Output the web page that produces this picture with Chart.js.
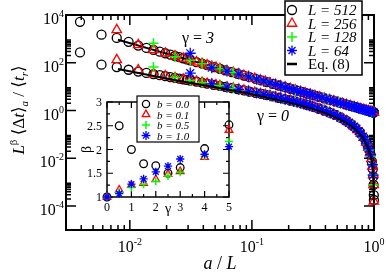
<!DOCTYPE html>
<html>
<head>
<meta charset="utf-8">
<script src="https://cdn.jsdelivr.net/npm/chart.js"></script>
<style>
    html, body { margin: 0; padding: 0; background: #fff; }
    #wrap { position: relative; width: 386px; height: 272px; overflow: hidden; }
    #main-chart { position: absolute; left: 0; top: 0; }
    #inset-chart { position: absolute; left: 80px; top: 92px; }
</style>
</head>
<body>
<div id="wrap">
    <canvas id="main-chart" width="386" height="272"></canvas>
    <canvas id="inset-chart" width="160" height="130"></canvas>
</div>
<script>
// --- Main plot data: a values per system size L, and scaled times for gamma = 3 (upper) and gamma = 0 (lower) ---
const a512 = [2, 3, 4, 5, 6, 7, 8, 9, 10, 11, 12, 13, 14, 15, 16, 18, 20, 22, 25, 28, 31, 35, 39, 44, 49, 55, 61, 68, 76, 85, 95, 106, 118, 131, 146, 162, 180, 200, 222, 246, 272, 300, 330, 360, 390, 420, 445, 465, 480, 492, 500, 505, 508, 510, 511];
const up512 = [5200, 1500, 1100, 750, 525, 420, 346, 292, 250, 218, 192, 171, 154, 139, 127, 107, 91.6, 79.8, 66.3, 56.2, 48.5, 40.7, 34.8, 29.2, 25.0, 21.1, 18.2, 15.5, 13.2, 11.2, 9.57, 8.16, 6.99, 6.00, 5.13, 4.41, 3.79, 3.25, 2.79, 2.41, 2.08, 1.81, 1.57, 1.39, 1.23, 1.11, 1.02, 0.956, 0.913, 0.881, 0.861, 0.849, 0.841, 0.836, 0.834];
const low512 = [270, 83, 66, 51, 43.0, 37.6, 33.4, 30.2, 27.5, 25.3, 23.4, 21.8, 20.4, 19.2, 18.1, 16.3, 14.8, 13.5, 12.0, 10.8, 9.81, 8.73, 7.86, 6.98, 6.26, 5.55, 4.98, 4.43, 3.91, 3.44, 3.01, 2.63, 2.29, 1.99, 1.70, 1.45, 1.22, 1.006, 0.820, 0.654, 0.509, 0.384, 0.278, 0.193, 0.127, 0.0759, 0.0435, 0.0244, 0.0143, 7.4e-3, 3.6e-3, 1.7e-3, 7.8e-4, 2.9e-4, 1.8e-4];

const a256 = [2, 3, 4, 5, 6, 7, 8, 9, 10, 11, 12, 13, 14, 16, 18, 20, 22, 24, 27, 30, 33, 36, 40, 44, 48, 53, 58, 64, 70, 77, 84, 92, 100, 110, 120, 130, 141, 152, 164, 176, 188, 200, 211, 221, 230, 238, 244, 249, 252, 254, 255];
const up256 = [2400, 560, 346, 250, 192, 154, 127, 107, 91.6, 79.8, 70.3, 62.6, 56.2, 46.3, 39.1, 33.5, 29.2, 25.7, 21.7, 18.6, 16.2, 14.3, 12.3, 10.7, 9.42, 8.16, 7.16, 6.21, 5.45, 4.75, 4.18, 3.67, 3.25, 2.83, 2.50, 2.22, 1.98, 1.77, 1.59, 1.43, 1.30, 1.19, 1.10, 1.03, 0.97, 0.925, 0.89, 0.866, 0.85, 0.84, 0.84];
const low256 = [133, 50, 33.4, 27.5, 23.4, 20.4, 18.1, 16.3, 14.8, 13.5, 12.5, 11.6, 10.8, 9.52, 8.50, 7.67, 6.98, 6.39, 5.66, 5.07, 4.58, 4.16, 3.69, 3.30, 2.98, 2.63, 2.34, 2.05, 1.81, 1.57, 1.36, 1.17, 1.006, 0.835, 0.692, 0.572, 0.461, 0.368, 0.284, 0.214, 0.156, 0.108, 0.073, 0.0469, 0.0282, 0.0168, 9.5e-3, 4.5e-3, 2.05e-3, 7.8e-4, 1.6e-4];

const a128 = [2, 3, 4, 5, 6, 7, 8, 9, 10, 12, 14, 16, 18, 20, 23, 26, 29, 32, 36, 40, 44, 49, 54, 60, 66, 72, 79, 86, 93, 100, 106, 112, 117, 121, 124, 126, 127];
const up128 = [660, 180, 127, 91.6, 70.3, 56.2, 46.3, 39.1, 33.5, 25.7, 20.6, 17.0, 14.3, 12.3, 10.0, 8.39, 7.16, 6.21, 5.23, 4.49, 3.91, 3.35, 2.91, 2.50, 2.17, 1.92, 1.67, 1.48, 1.32, 1.19, 1.09, 1.01, 0.95, 0.90, 0.87, 0.85, 0.84];
const low128 = [66, 24, 18.1, 14.8, 12.5, 10.8, 9.52, 8.50, 7.67, 6.39, 5.45, 4.73, 4.16, 3.69, 3.13, 2.70, 2.34, 2.05, 1.73, 1.48, 1.26, 1.045, 0.867, 0.692, 0.551, 0.435, 0.324, 0.236, 0.165, 0.108, 0.0702, 0.0402, 0.0223, 0.0118, 5.4e-3, 2.05e-3, 7.8e-4];

const a64 = [2, 3, 4, 5, 6, 7, 8, 9, 10, 11, 12, 13, 14, 15, 16, 17, 18, 19, 20, 22, 24, 26, 28, 30, 32, 34, 36, 38, 40, 42, 44, 46, 48, 50, 52, 54, 56, 58, 60, 62, 63];
const up64 = [250, 62, 45, 33.5, 25.7, 20.6, 17.0, 14.3, 12.3, 10.7, 9.4, 8.4, 7.5, 6.8, 6.2, 5.7, 5.2, 4.84, 4.49, 3.91, 3.45, 3.07, 2.76, 2.50, 2.27, 2.08, 1.92, 1.77, 1.64, 1.53, 1.43, 1.34, 1.26, 1.19, 1.12, 1.06, 1.01, 0.96, 0.91, 0.87, 0.85];
const low64 = [37, 13, 9.5, 7.67, 6.39, 5.45, 4.73, 4.16, 3.69, 3.30, 2.98, 2.70, 2.45, 2.24, 2.05, 1.88, 1.73, 1.60, 1.48, 1.26, 1.085, 0.934, 0.804, 0.692, 0.595, 0.509, 0.435, 0.369, 0.310, 0.259, 0.214, 0.174, 0.139, 0.108, 0.082, 0.0593, 0.0402, 0.0252, 0.0143, 5.4e-3, 2.0e-3];

// Eq. (8) curves
const eqX = [0.008, 0.02, 0.05, 0.1, 0.2, 0.3, 0.4, 0.5, 0.6, 0.7, 0.8, 0.9, 0.95, 0.98, 0.99, 0.995, 0.998];
const eqUpper = [914, 242, 64, 23.4, 8.6, 4.76, 3.14, 2.27, 1.75, 1.40, 1.15, 0.97, 0.90, 0.86, 0.84, 0.835, 0.83];
const eqLower = [55, 22, 9.4, 4.8, 2.2, 1.26, 0.78, 0.48, 0.30, 0.17, 0.082, 0.026, 0.0102, 2.9e-3, 1.1e-3, 4.2e-4, 1.6e-4];

// --- Inset data: beta vs gamma for several b ---
const gammas = [0, 0.5, 1, 1.5, 2, 2.5, 3, 4, 5];
const beta00 = [1.0, 2.5, 2.0, 1.7, 1.66, 1.5, 1.62, 2.02, 2.52];
const beta01 = [1.0, 1.15, 1.25, 1.29, 1.37, 1.48, 1.54, 1.84, 2.41];
const beta05 = [1.0, 1.1, 1.2, 1.27, 1.33, 1.44, 1.52, 1.86, 2.17];
const beta10 = [1.0, 1.07, 1.27, 1.38, 1.53, 1.65, 1.8, 1.9, 2.06];

// --- Tick labels ---
const xTickExps = [-2, -1, 0];
const yTickExps = [4, 2, 0, -2, -4];
const insetXTicks = [0, 1, 2, 3, 4, 5];
const insetYTicks = [1, 1.5, 2, 2.5, 3];

const legendMain = ['L = 512', 'L = 256', 'L = 128', 'L = 64'];
const legendInset = ['b = 0.0', 'b = 0.1', 'b = 0.5', 'b = 1.0'];

// --- Styles ---
const SERIF = '"Liberation Serif", "DejaVu Serif", serif';
const STYLE_CIRCLE = { shape: 'circle', r: 4.5, color: '#000000', w: 1.3 };
const STYLE_TRI = { shape: 'triangle', r: 5.5, color: '#ff0000', w: 1.3 };
const STYLE_PLUS = { shape: 'cross', r: 5, color: '#00ff00', w: 1.5 };
const STYLE_STAR = { shape: 'star', r: 5.5, color: '#0000ff', w: 1.3 };
const mainStyles = [STYLE_CIRCLE, STYLE_TRI, STYLE_PLUS, STYLE_STAR];

// --- Helpers ---
function fontStr(p) {
    return (p.italic ? 'italic ' : '') + p.size + 'px ' + SERIF;
}

function drawRich(ctx, x, y, parts, align) {
    let total = 0;
    parts.forEach(p => {
        ctx.font = fontStr(p);
        p.w = ctx.measureText(p.t).width;
        total += p.w;
    });
    let cx = align === 'center' ? x - total / 2 : (align === 'right' ? x - total : x);
    ctx.textAlign = 'left';
    ctx.textBaseline = 'alphabetic';
    ctx.fillStyle = '#000';
    parts.forEach(p => {
        ctx.font = fontStr(p);
        ctx.fillText(p.t, cx, y + (p.dy || 0));
        cx += p.w;
    });
}

function drawMarker(ctx, style, x, y, scale) {
    const r = style.r * (scale || 1);
    ctx.save();
    ctx.strokeStyle = style.color;
    ctx.lineWidth = style.w;
    ctx.beginPath();
    if (style.shape === 'circle') {
        ctx.arc(x, y, r, 0, Math.PI * 2);
    } else if (style.shape === 'triangle') {
        for (let i = 0; i < 3; i++) {
            const ang = i * 2 * Math.PI / 3;
            const px = x + Math.sin(ang) * r, py = y - Math.cos(ang) * r;
            if (i === 0) ctx.moveTo(px, py); else ctx.lineTo(px, py);
        }
        ctx.closePath();
    } else {
        ctx.moveTo(x - r, y); ctx.lineTo(x + r, y);
        ctx.moveTo(x, y - r); ctx.lineTo(x, y + r);
        if (style.shape === 'star') {
            const d = r * Math.SQRT1_2;
            ctx.moveTo(x - d, y - d); ctx.lineTo(x + d, y + d);
            ctx.moveTo(x - d, y + d); ctx.lineTo(x + d, y - d);
        }
    }
    ctx.stroke();
    ctx.restore();
}

function markerSet(xs, ys, style, scale) {
    return {
        data: xs.map((x, i) => ({ x: x, y: ys[i] })),
        showLine: false,
        pointStyle: style.shape,
        pointRadius: style.r * (scale || 1),
        pointBorderColor: style.color,
        pointBackgroundColor: 'rgba(0,0,0,0)',
        pointBorderWidth: style.w,
        clip: false,
    };
}

function lineSet(xs, ys) {
    return {
        data: xs.map((x, i) => ({ x: x, y: ys[i] })),
        showLine: true,
        borderColor: '#000',
        borderWidth: 2,
        pointRadius: 0,
        tension: 0,
        clip: false,
    };
}

function drawTicks(ctx, area, scaleObj, values, len, horizontal) {
    values.forEach(v => {
        const p = scaleObj.getPixelForValue(v);
        ctx.beginPath();
        if (horizontal) {
            ctx.moveTo(p, area.bottom); ctx.lineTo(p, area.bottom - len);
            ctx.moveTo(p, area.top); ctx.lineTo(p, area.top + len);
        } else {
            ctx.moveTo(area.left, p); ctx.lineTo(area.left + len, p);
            ctx.moveTo(area.right, p); ctx.lineTo(area.right - len, p);
        }
        ctx.stroke();
    });
}

// --- Main chart decorations ---
const mainDecor = {
    id: 'mainDecor',
    beforeDatasetsDraw(chart) {
        const ctx = chart.ctx, area = chart.chartArea;
        const xs = chart.scales.x, ys = chart.scales.y;
        ctx.save();
        ctx.strokeStyle = '#000';
        ctx.lineWidth = 1.5;

        const xMajor = xTickExps.map(e => Math.pow(10, e));
        const xMinor = [];
        [-3, -2, -1].forEach(e => {
            for (let k = 2; k <= 9; k++) {
                const v = k * Math.pow(10, e);
                if (v >= xs.min && v <= xs.max) xMinor.push(v);
            }
        });
        const yMajor = yTickExps.map(e => Math.pow(10, e));
        const yMinor = [];
        yTickExps.forEach(e => {
            for (let k = 2; k <= 9; k++) {
                const v = k * Math.pow(10, e);
                if (v >= ys.min && v <= ys.max) yMinor.push(v);
            }
        });
        drawTicks(ctx, area, xs, xMajor, 10, true);
        drawTicks(ctx, area, xs, xMinor, 5, true);
        drawTicks(ctx, area, ys, yMajor, 10, false);
        drawTicks(ctx, area, ys, yMinor, 5, false);

        ctx.lineWidth = 2;
        ctx.strokeRect(area.left, area.top, area.right - area.left, area.bottom - area.top);
        ctx.restore();
    },
    afterDatasetsDraw(chart) {
        const ctx = chart.ctx, area = chart.chartArea;
        const xs = chart.scales.x, ys = chart.scales.y;
        ctx.save();

        // tick labels
        yTickExps.forEach(e => {
            const py = ys.getPixelForValue(Math.pow(10, e));
            drawRich(ctx, 64, py + 9, [
                { t: '10', size: 16 },
                { t: String(e), size: 10, dy: -7 },
            ], 'right');
        });
        xTickExps.forEach(e => {
            const px = xs.getPixelForValue(Math.pow(10, e));
            drawRich(ctx, px, 252, [
                { t: '10', size: 16 },
                { t: String(e), size: 10, dy: -7 },
            ], 'center');
        });

        // axis titles
        drawRich(ctx, (area.left + area.right) / 2, 269, [
            { t: 'a', size: 18, italic: true },
            { t: ' / ', size: 18 },
            { t: 'L', size: 18, italic: true },
        ], 'center');

        ctx.save();
        ctx.translate(24, 110);
        ctx.rotate(-Math.PI / 2);
        drawRich(ctx, 0, 0, [
            { t: 'L', size: 17, italic: true },
            { t: 'β', size: 11, dy: -7 },
            { t: ' \u27e8', size: 17 },
            { t: 'Δ', size: 17 },
            { t: 't', size: 17, italic: true },
            { t: '\u27e9', size: 17 },
            { t: 'a', size: 11, italic: true, dy: 4 },
            { t: ' / \u27e8', size: 17 },
            { t: 't', size: 17, italic: true },
            { t: 'r', size: 11, italic: true, dy: 4 },
            { t: '\u27e9', size: 17 },
        ], 'center');
        ctx.restore();

        // curve annotations
        drawRich(ctx, 182, 43, [
            { t: 'γ = ', size: 16 },
            { t: '3', size: 16, italic: true },
        ], 'left');
        drawRich(ctx, 257, 121, [
            { t: 'γ = ', size: 16 },
            { t: '0', size: 16, italic: true },
        ], 'left');

        // legend
        ctx.fillStyle = '#fff';
        ctx.fillRect(285, 1, 77, 74);
        ctx.strokeStyle = '#000';
        ctx.lineWidth = 1.5;
        ctx.strokeRect(285, 1, 77, 74);
        const rows = [10, 23.5, 37, 50.5, 64];
        legendMain.forEach((label, i) => {
            drawMarker(ctx, mainStyles[i], 292, rows[i], i === 3 ? 0.9 : 1);
            drawRich(ctx, 308, rows[i] + 5, [{ t: label, size: 15, italic: true }], 'left');
        });
        ctx.strokeStyle = '#000';
        ctx.lineWidth = 2.5;
        ctx.beginPath();
        ctx.moveTo(287, rows[4]);
        ctx.lineTo(297, rows[4]);
        ctx.stroke();
        drawRich(ctx, 308, rows[4] + 5, [{ t: 'Eq. (8)', size: 15 }], 'left');

        ctx.restore();
    }
};

// --- Inset decorations ---
const insetDecor = {
    id: 'insetDecor',
    beforeDatasetsDraw(chart) {
        const ctx = chart.ctx, area = chart.chartArea;
        const xs = chart.scales.x, ys = chart.scales.y;
        ctx.save();
        ctx.fillStyle = '#fff';
        ctx.fillRect(area.left, area.top, area.right - area.left, area.bottom - area.top);
        ctx.strokeStyle = '#000';
        ctx.lineWidth = 1.2;
        drawTicks(ctx, area, xs, insetXTicks, 6, true);
        drawTicks(ctx, area, xs, [0.5, 1.5, 2.5, 3.5, 4.5], 3, true);
        drawTicks(ctx, area, ys, insetYTicks, 6, false);
        drawTicks(ctx, area, ys, [1.25, 1.75, 2.25, 2.75], 3, false);
        ctx.lineWidth = 1.5;
        ctx.strokeRect(area.left, area.top, area.right - area.left, area.bottom - area.top);
        ctx.restore();
    },
    afterDatasetsDraw(chart) {
        const ctx = chart.ctx, area = chart.chartArea;
        const xs = chart.scales.x, ys = chart.scales.y;
        ctx.save();
        insetXTicks.forEach(v => {
            drawRich(ctx, xs.getPixelForValue(v), 119, [{ t: String(v), size: 12 }], 'center');
        });
        insetYTicks.forEach(v => {
            drawRich(ctx, 22, ys.getPixelForValue(v) + 4, [{ t: String(v), size: 12 }], 'right');
        });
        drawRich(ctx, 88, 121, [{ t: 'γ', size: 14 }], 'center');
        ctx.save();
        ctx.translate(11, (area.top + area.bottom) / 2);
        ctx.rotate(-Math.PI / 2);
        drawRich(ctx, 0, 0, [{ t: 'β', size: 14 }], 'center');
        ctx.restore();

        // legend box (canvas offset 80, 92)
        ctx.fillStyle = '#fff';
        ctx.fillRect(57, 4, 62, 46);
        ctx.strokeStyle = '#000';
        ctx.lineWidth = 1.2;
        ctx.strokeRect(57, 4, 62, 46);
        const rows = [12, 22.5, 33, 43.5];
        legendInset.forEach((label, i) => {
            drawMarker(ctx, mainStyles[i], 66, rows[i], 0.8);
            drawRich(ctx, 77, rows[i] + 4, [{ t: label, size: 11, italic: true }], 'left');
        });
        ctx.restore();
    }
};

const commonOptions = {
    responsive: false,
    animation: false,
    events: [],
    plugins: { legend: { display: false }, tooltip: { enabled: false } },
};

// First dataset is drawn on top: the gamma = 0 Eq. (8) line shows over the symbols,
// the gamma = 3 one sits underneath them.
new Chart(document.getElementById('main-chart'), {
    type: 'scatter',
    data: {
        datasets: [
            lineSet(eqX, eqLower),
            markerSet(a64.map(a => a / 64), up64, STYLE_STAR),
            markerSet(a64.map(a => a / 64), low64, STYLE_STAR),
            markerSet(a128.map(a => a / 128), up128, STYLE_PLUS),
            markerSet(a128.map(a => a / 128), low128, STYLE_PLUS),
            markerSet(a256.map(a => a / 256), up256, STYLE_TRI),
            markerSet(a256.map(a => a / 256), low256, STYLE_TRI),
            markerSet(a512.map(a => a / 512), up512, STYLE_CIRCLE),
            markerSet(a512.map(a => a / 512), low512, STYLE_CIRCLE),
            lineSet(eqX, eqUpper),
        ]
    },
    options: Object.assign({}, commonOptions, {
        layout: { padding: { left: 66, right: 12, top: 15, bottom: 42 } },
        scales: {
            x: { type: 'logarithmic', min: 0.003, max: 1, display: false },
            y: { type: 'logarithmic', min: 1e-5, max: 1e4, display: false },
        },
    }),
    plugins: [mainDecor],
});

new Chart(document.getElementById('inset-chart'), {
    type: 'scatter',
    data: {
        datasets: [
            markerSet(gammas, beta10, STYLE_STAR, 0.75),
            markerSet(gammas, beta05, STYLE_PLUS, 0.8),
            markerSet(gammas, beta01, STYLE_TRI, 0.8),
            markerSet(gammas, beta00, STYLE_CIRCLE, 0.85),
        ]
    },
    options: Object.assign({}, commonOptions, {
        layout: { padding: { left: 27, right: 11, top: 10, bottom: 25 } },
        scales: {
            x: { type: 'linear', min: 0, max: 5, display: false },
            y: { type: 'linear', min: 1, max: 3, display: false },
        },
    }),
    plugins: [insetDecor],
});
</script>
</body>
</html>
